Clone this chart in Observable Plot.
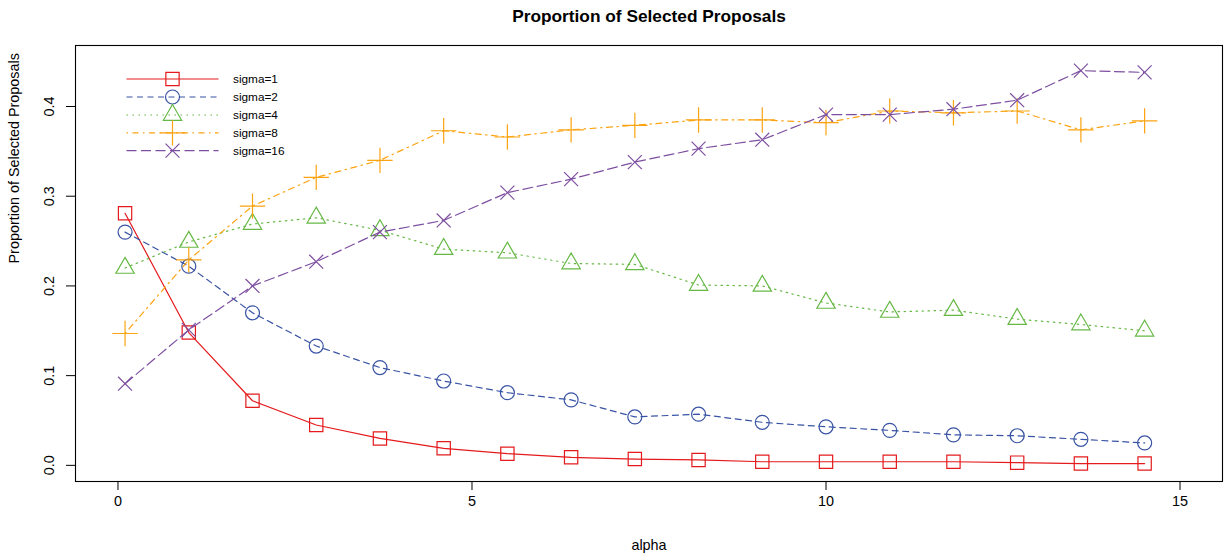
<!DOCTYPE html>
<html>
<head>
<meta charset="utf-8">
<script src="https://cdn.jsdelivr.net/npm/d3@7"></script>
<script src="https://cdn.jsdelivr.net/npm/@observablehq/plot@0.6"></script>
<style>
  html, body { margin: 0; padding: 0; background: #fff; }
  #wrap { position: relative; width: 1224px; height: 554px; font-family: "Liberation Sans", Arial, Helvetica, sans-serif; }
  #legend { position: absolute; left: 0; top: 0; pointer-events: none; }
</style>
</head>
<body>
<div id="wrap"></div>
<script>
// ---- data ----
const alpha = [0.1, 1.0, 1.9, 2.8, 3.7, 4.6, 5.5, 6.4, 7.3, 8.2, 9.1, 10.0, 10.9, 11.8, 12.7, 13.6, 14.5];
const sigma1  = [0.281, 0.148, 0.072, 0.045, 0.030, 0.019, 0.013, 0.009, 0.007, 0.006, 0.004, 0.004, 0.004, 0.004, 0.003, 0.002, 0.002];
const sigma2  = [0.260, 0.222, 0.170, 0.133, 0.109, 0.094, 0.081, 0.073, 0.054, 0.057, 0.048, 0.043, 0.039, 0.034, 0.033, 0.029, 0.025];
const sigma4  = [0.220, 0.249, 0.269, 0.276, 0.262, 0.241, 0.237, 0.225, 0.224, 0.201, 0.200, 0.181, 0.171, 0.173, 0.163, 0.157, 0.150];
const sigma8  = [0.147, 0.229, 0.289, 0.321, 0.340, 0.373, 0.366, 0.374, 0.379, 0.385, 0.385, 0.382, 0.395, 0.393, 0.395, 0.374, 0.384];
const sigma16 = [0.091, 0.151, 0.200, 0.227, 0.260, 0.273, 0.304, 0.319, 0.338, 0.353, 0.363, 0.391, 0.391, 0.397, 0.407, 0.440, 0.438];
const seriesNames = ["sigma=1", "sigma=2", "sigma=4", "sigma=8", "sigma=16"];
const seriesValues = [sigma1, sigma2, sigma4, sigma8, sigma16];
const xTicks = [0, 5, 10, 15];
const yTicks = [0.0, 0.1, 0.2, 0.3, 0.4];
const yTickLabels = ["0.0", "0.1", "0.2", "0.3", "0.4"];
const title = "Proportion of Selected Proposals";
const xLabel = "alpha";
const yLabel = "Proportion of Selected Proposals";

// ---- styles ----
const styles = [
  {color: "#E41A1C", dash: null,               symbol: "square",   r: 7.5},
  {color: "#3953A4", dash: "6,4.5",            symbol: "circle",   r: 7},
  {color: "#66B845", dash: "1.5,4.5",          symbol: "triangle", r: 6.8},
  {color: "#FCA311", dash: "1.5,4.5,6,4.5",    symbol: "plus",     r: 8.2},
  {color: "#7D4FA0", dash: "10,4.5",           symbol: "times",    r: 6.4}
];

const rows = [];
seriesNames.forEach((name, s) => {
  alpha.forEach((a, i) => rows.push({series: name, s, alpha: a, value: seriesValues[s][i]}));
});

const font = '"Liberation Sans", Arial, Helvetica, sans-serif';
const marks = [];
styles.forEach((st, s) => {
  const data = rows.filter(d => d.s === s);
  marks.push(Plot.line(data, {x: "alpha", y: "value", stroke: st.color, strokeWidth: 1.2, strokeDasharray: st.dash ?? undefined}));
  marks.push(Plot.dot(data, {x: "alpha", y: "value", symbol: () => st.symbol, r: st.r, stroke: st.color, fill: "none", strokeWidth: 1.2}));
});

const chart = Plot.plot({
  width: 1224,
  height: 554,
  marginLeft: 75,
  marginRight: 2,
  marginTop: 45,
  marginBottom: 73,
  style: {fontFamily: font, fontSize: "14.4px", background: "#fff", color: "#000"},
  x: {domain: [-0.6, 15.6]},
  y: {domain: [-0.018, 0.468]},
  symbol: {type: "identity"},
  marks: [
    ...marks,
    Plot.frame({stroke: "#000", strokeWidth: 1.1}),
    Plot.axisX({ticks: xTicks, tickSize: 9, tickPadding: 5, label: null, fontSize: 14.4, strokeWidth: 1}),
    Plot.axisY({ticks: yTicks, tickSize: 9, tickFormat: () => "", label: null, strokeWidth: 1}),
    Plot.text(yTicks, {y: d => d, text: (d, i) => yTickLabels[i], frameAnchor: "left", rotate: -90, dx: -26, fontSize: 14.4, textAnchor: "middle", lineAnchor: "middle"}),
    Plot.text([title], {frameAnchor: "top", dy: -29, fontWeight: "bold", fontSize: 17.3, lineAnchor: "middle"}),
    Plot.text([xLabel], {frameAnchor: "bottom", dy: 64, fontSize: 14.4, lineAnchor: "middle"}),
    Plot.text([yLabel], {frameAnchor: "left", dx: -61, rotate: -90, fontSize: 14.4, lineAnchor: "middle"})
  ]
});
document.getElementById("wrap").appendChild(chart);

// ---- legend (overlay) ----
const leg = d3.select("#wrap").append("svg").attr("id", "legend").attr("width", 1224).attr("height", 554);
const symMap = {square: d3.symbolSquare, circle: d3.symbolCircle, triangle: d3.symbolTriangle, plus: d3.symbolPlus, times: d3.symbolTimes};
const rowY = [79, 97, 115, 132.8, 150.6];
styles.forEach((st, s) => {
  const y = rowY[s];
  const line = leg.append("line").attr("x1", 126.5).attr("x2", 218.5).attr("y1", y).attr("y2", y)
    .attr("stroke", st.color).attr("stroke-width", 1.2);
  if (st.dash) line.attr("stroke-dasharray", st.dash);
  leg.append("path").attr("transform", `translate(172.5,${y})`)
    .attr("d", d3.symbol(symMap[st.symbol], Math.PI * st.r * st.r)())
    .attr("fill", "none").attr("stroke", st.color).attr("stroke-width", 1.2);
  leg.append("text").attr("x", 233).attr("y", y).attr("dy", "0.35em")
    .attr("font-family", font).attr("font-size", 11.8).text(seriesNames[s]);
});
</script>
</body>
</html>
